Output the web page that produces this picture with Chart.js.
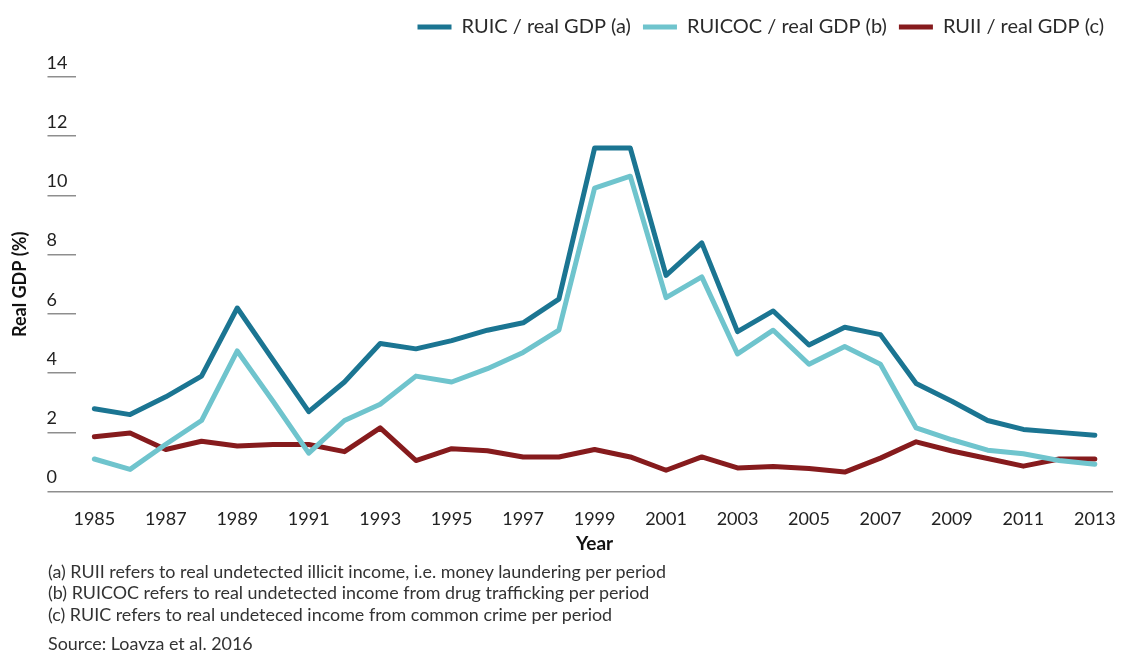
<!DOCTYPE html>
<html><head><meta charset="utf-8">
<script src="https://cdn.jsdelivr.net/npm/chart.js@4.4.1/dist/chart.umd.min.js"></script>
<style>
html,body{margin:0;padding:0;background:#fff;}
#wrap{position:relative;width:1133px;height:650px;overflow:hidden;}
canvas{position:absolute;left:0;top:0;}
.note{position:absolute;left:48px;font-family:Lato,sans-serif;font-size:17.9px;line-height:20px;color:#333;white-space:nowrap;}
</style></head><body>
<div id="wrap">
<canvas id="c" width="1133" height="650"></canvas>
<div class="note" style="top:561px">(a) RUII refers to real undetected illicit income, i.e. money laundering per period</div>
<div class="note" style="top:582px">(b) RUICOC refers to real undetected income from drug trafficking per period</div>
<div class="note" style="top:604px">(c) RUIC refers to real undeteced income from common crime per period</div>
<div class="note" style="top:633px">Source: Loayza et al. 2016</div>
</div>
<script>
const years = ['1985','1986','1987','1988','1989','1990','1991','1992','1993','1994','1995','1996','1997','1998','1999','2000','2001','2002','2003','2004','2005','2006','2007','2008','2009','2010','2011','2012','2013'];
const tickLabels = ['1985','1987','1989','1991','1993','1995','1997','1999','2001','2003','2005','2007','2009','2011','2013'];
const ruic   = [2.8, 2.6, 3.2, 3.9, 6.2, 4.45, 2.7, 3.7, 5.0, 4.82, 5.1, 5.45, 5.7, 6.5, 11.6, 11.6, 7.3, 8.4, 5.4, 6.1, 4.95, 5.55, 5.3, 3.65, 3.05, 2.4, 2.1, 2.0, 1.9];
const ruicoc = [1.1, 0.75, 1.6, 2.4, 4.75, 3.05, 1.3, 2.4, 2.95, 3.9, 3.7, 4.15, 4.7, 5.45, 10.25, 10.65, 6.55, 7.25, 4.65, 5.45, 4.3, 4.9, 4.3, 2.15, 1.75, 1.4, 1.28, 1.05, 0.92];
const ruii   = [1.85, 1.98, 1.42, 1.7, 1.54, 1.59, 1.59, 1.35, 2.15, 1.05, 1.45, 1.38, 1.17, 1.17, 1.42, 1.17, 0.72, 1.17, 0.8, 0.85, 0.78, 0.66, 1.13, 1.68, 1.37, 1.12, 0.86, 1.1, 1.1];
const seriesNames = ['RUIC / real GDP (a)', 'RUICOC / real GDP (b)', 'RUII / real GDP (c)'];
const yTicks = [0, 2, 4, 6, 8, 10, 12, 14];

const FONT = 'Lato, sans-serif';
const colors = ['#1b7592', '#6fc4cd', '#861b1d'];

function ds(label, data, color) {
  return { label, data, borderColor: color, backgroundColor: color, borderWidth: 5,
    pointRadius: 0, pointHoverRadius: 0, tension: 0, borderJoinStyle: 'round', borderCapStyle: 'round', yAxisID: 'y' };
}

const legendMargin = {
  id: 'legendMargin',
  beforeInit(chart) {
    const f = chart.legend.fit;
    chart.legend.fit = function () { f.call(this); this.height += 30; };
  }
};

new Chart(document.getElementById('c'), {
  type: 'line',
  data: {
    labels: years,
    datasets: [
      ds(seriesNames[0], ruic, colors[0]),
      ds(seriesNames[1], ruicoc, colors[1]),
      ds(seriesNames[2], ruii, colors[2])
    ]
  },
  options: {
    responsive: false,
    animation: false,
    devicePixelRatio: 1,
    layout: { padding: { left: 3, right: 17, top: 5, bottom: 95 } },
    plugins: {
      tooltip: { enabled: false },
      legend: {
        position: 'top', align: 'end',
        labels: { usePointStyle: true, pointStyle: 'line', pointStyleWidth: 34, boxHeight: 20,
          font: { family: FONT, size: 20 }, color: '#2a2a2a', padding: 12 }
      }
    },
    scales: {
      x: {
        type: 'category', offset: true,
        grid: { display: false, drawTicks: false },
        border: { display: true, color: '#8e8e8e', width: 1.5 },
        ticks: { autoSkip: false, maxRotation: 0, padding: 17, color: '#222', font: { family: FONT, size: 18 },
          callback: function (v) { const l = this.getLabelForValue(v); return tickLabels.includes(l) ? l : ''; } },
        title: { display: true, text: 'Year', color: '#111', font: { family: FONT, size: 19, weight: 'bold' }, padding: { top: -15, bottom: 0 } }
      },
      y: {
        type: 'linear', position: 'left', weight: 0, min: 0, max: 14,
        afterBuildTicks: (axis) => { axis.ticks = yTicks.map(v => ({ value: v })); },
        grid: { display: true, drawOnChartArea: false, drawTicks: true, tickLength: 29, color: '#8e8e8e', lineWidth: 1.5 },
        border: { display: false },
        ticks: { crossAlign: 'far', padding: -10, labelOffset: -14, color: '#222', font: { family: FONT, size: 18 } }
      },
      yTitle: {
        type: 'linear', position: 'left', weight: 1,
        grid: { display: false, drawTicks: false },
        border: { display: false },
        ticks: { display: false },
        title: { display: true, text: 'Real GDP (%)', color: '#111', font: { family: FONT, size: 18, weight: 'bold' }, padding: { top: 6, bottom: 16 } }
      }
    }
  },
  plugins: [legendMargin]
});
</script>
</body></html>
